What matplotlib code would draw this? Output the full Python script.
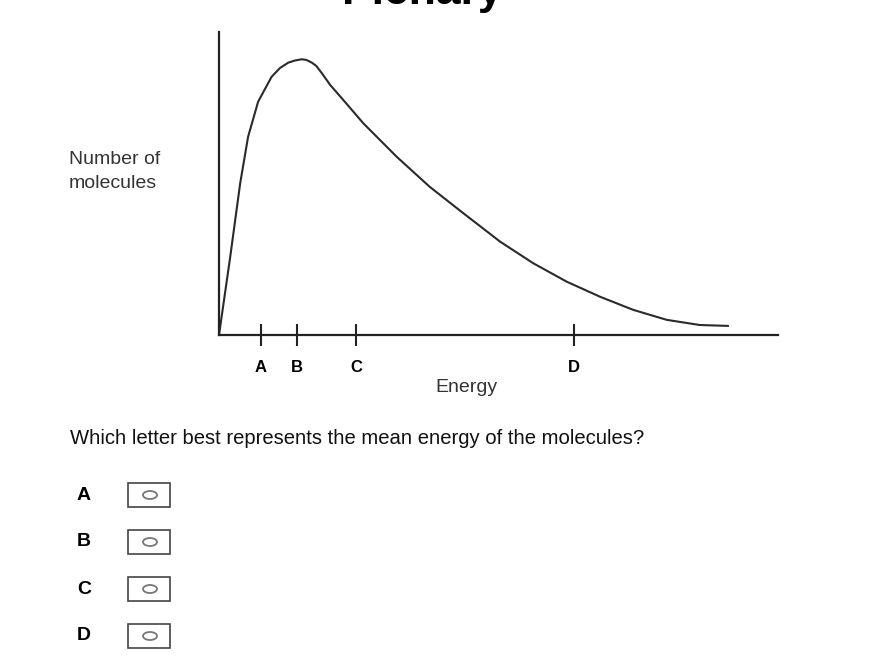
import matplotlib.pyplot as plt
from matplotlib.patches import Rectangle, Ellipse

plt.rcParams['font.family'] = ['Liberation Sans', 'DejaVu Sans']

# curve (energy, number of molecules), axis 0..10 both ways
energy = [0.0, 0.20, 0.38, 0.52, 0.70, 0.94, 1.09, 1.24, 1.36, 1.48, 1.56, 1.66,
          1.74, 1.84, 1.99, 2.25, 2.58, 3.18, 3.77, 4.37, 5.03, 5.62, 6.22,
          6.82, 7.41, 8.01, 8.60, 9.11]
molecules = [0.0, 2.57, 5.02, 6.54, 7.70, 8.52, 8.81, 8.99, 9.06, 9.10, 9.08, 8.99,
             8.88, 8.64, 8.25, 7.70, 6.99, 5.88, 4.89, 4.02, 3.08, 2.37, 1.76,
             1.26, 0.83, 0.50, 0.33, 0.30]

tick_pos = [0.75, 1.40, 2.45, 6.35]
tick_labels = ['A', 'B', 'C', 'D']
options = ['A', 'B', 'C', 'D']

question = 'Which letter best represents the mean energy of the molecules?'

W, H = 888, 662
fig = plt.figure(figsize=(W / 100, H / 100), dpi=100)

# page overlay in pixel coordinates for the surrounding layout
page = fig.add_axes([0, 0, 1, 1])
page.set_xlim(0, W)
page.set_ylim(H, 0)
page.axis('off')

ax = fig.add_axes([219 / W, 1 - 335 / H, 559 / W, 303 / H])
ax.plot(energy, molecules, color='#2a2a2a', lw=1.5, solid_joinstyle='round',
        solid_capstyle='round')
ax.set_xlim(0, 10)
ax.set_ylim(0, 10)
for s in ['top', 'right']:
    ax.spines[s].set_visible(False)
for s in ['left', 'bottom']:
    ax.spines[s].set_linewidth(1.6)
    ax.spines[s].set_color('#222222')
ax.set_yticks([])
ax.set_xticks(tick_pos)
ax.set_xticklabels(tick_labels, fontweight='bold', fontsize=12)
ax.tick_params(axis='x', direction='inout', length=16, width=1.5,
               color='#222222', pad=10)
ax.set_facecolor('none')

page.text(466, 388, 'Energy', fontsize=14, color='#333333', ha='center', va='center')
page.text(69, 160, 'Number of', fontsize=14, color='#333333', ha='left', va='center')
page.text(69, 184, 'molecules', fontsize=14, color='#333333', ha='left', va='center')
page.text(70, 438, question, fontsize=14.6, color='#111111', ha='left', va='center')

# partly hidden heading at the top edge
page.text(422, 4, 'Plenary', fontsize=32, fontweight='bold', ha='center',
          va='baseline', color='black', clip_on=False)

centers = [495, 542, 589, 636]
for lab, cy in zip(options, centers):
    page.text(84, cy, lab, fontsize=14, fontweight='bold', ha='center', va='center')
    page.add_patch(Rectangle((128, cy - 12), 42, 24, fill=False, ec='#444444', lw=1.2))
    page.add_patch(Ellipse((150, cy), 14, 8, fill=False, ec='#777777', lw=1.3))

fig.savefig('out.png', dpi=100)
